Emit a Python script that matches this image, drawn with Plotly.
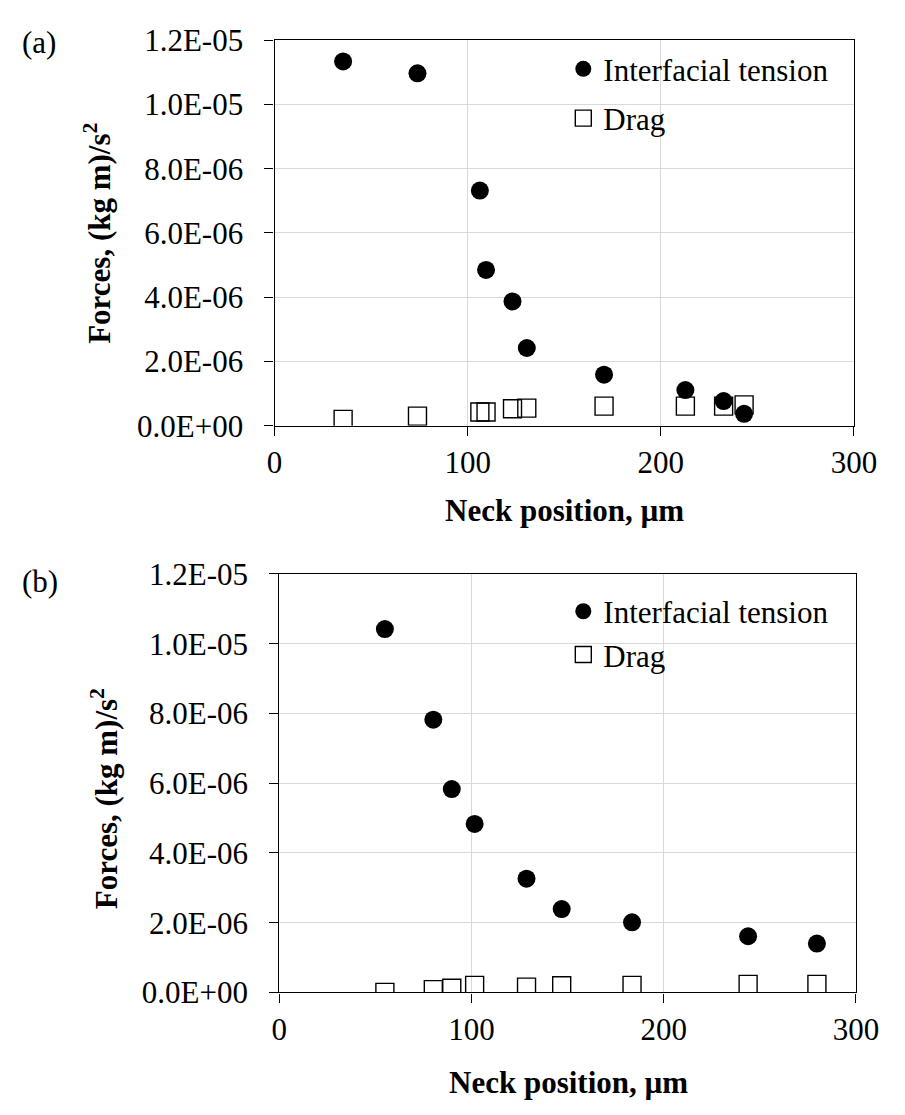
import plotly.graph_objects as go

# ---------------- data ----------------
neck_a = [35.5, 74.0, 106.3, 109.5, 123.2, 130.6, 170.6, 212.7, 232.5, 243.1]
tension_a = [11.34e-6, 10.97e-6, 7.32e-6, 4.85e-6, 3.87e-6, 2.42e-6, 1.59e-6, 1.11e-6, 0.77e-6, 0.37e-6]
drag_a = [0.20e-6, 0.30e-6, 0.43e-6, 0.43e-6, 0.53e-6, 0.55e-6, 0.61e-6, 0.61e-6, 0.61e-6, 0.65e-6]

neck_b = [54.9, 80.1, 89.7, 101.6, 128.6, 146.9, 183.5, 243.9, 279.7]
tension_b = [10.42e-6, 7.82e-6, 5.83e-6, 4.83e-6, 3.26e-6, 2.39e-6, 2.01e-6, 1.61e-6, 1.40e-6]
drag_b = [0.0, 0.08e-6, 0.12e-6, 0.20e-6, 0.15e-6, 0.19e-6, 0.20e-6, 0.23e-6, 0.23e-6]

y_tick_vals = [0, 2e-6, 4e-6, 6e-6, 8e-6, 10e-6, 12e-6]
y_tick_labels = ["0.0E+00", "2.0E-06", "4.0E-06", "6.0E-06", "8.0E-06", "1.0E-05", "1.2E-05"]
x_tick_vals = [0, 100, 200, 300]
x_tick_labels = ["0", "100", "200", "300"]

series_names = ["Interfacial tension", "Drag"]
panel_labels = ["(a)", "(b)"]
x_title = "<b>Neck position, µm</b>"
y_title = "<b>Forces, (kg m)/s<sup>2</sup></b>"

W, H = 905, 1115
FONT = "Liberation Serif, Times New Roman, serif"

fig = go.Figure()

def add_panel(xs, ten, drg, xa, ya, leg):
    fig.add_trace(go.Scatter(
        x=xs, y=drg, mode="markers", name=series_names[1],
        xaxis=xa, yaxis=ya, legend=leg, legendgroup="d" + leg, legendrank=2,
        marker=dict(symbol="square-open", size=18, color="black", line=dict(width=1.4, color="black")),
    ))
    fig.add_trace(go.Scatter(
        x=xs, y=ten, mode="markers", name=series_names[0],
        xaxis=xa, yaxis=ya, legend=leg, legendgroup="t" + leg, legendrank=1,
        marker=dict(symbol="circle", size=18, color="black"),
    ))

add_panel(neck_a, tension_a, drag_a, "x", "y", "legend")
add_panel(neck_b, tension_b, drag_b, "x2", "y2", "legend2")

def px_x(p):
    return p / W

def px_y(p):
    return 1 - p / H

axis_common = dict(
    showline=True, linecolor="black", linewidth=1.3, mirror=True,
    ticks="outside", ticklen=9, tickwidth=1.3, tickcolor="black",
    showgrid=True, gridcolor="#d9d9d9", gridwidth=1,
    zeroline=False, tickfont=dict(family=FONT, size=31, color="black"),
)

fig.update_layout(
    width=W, height=H,
    margin=dict(l=0, r=0, t=0, b=0),
    paper_bgcolor="white", plot_bgcolor="white",
    font=dict(family=FONT, color="black"),
    showlegend=True,
    xaxis=dict(domain=[px_x(276), px_x(876)], range=[0, 300], tickvals=x_tick_vals, ticktext=x_tick_labels,
               anchor="y", ticklabelstandoff=0, **axis_common),
    yaxis=dict(domain=[px_y(422), px_y(24)], range=[0, 12e-6], tickvals=y_tick_vals, ticktext=y_tick_labels,
               anchor="x", ticklabelstandoff=15, **axis_common),
    xaxis2=dict(domain=[px_x(281), px_x(878)], range=[0, 300], tickvals=x_tick_vals, ticktext=x_tick_labels,
                anchor="y2", ticklabelstandoff=0, **axis_common),
    yaxis2=dict(domain=[px_y(1007), px_y(575)], range=[0, 12e-6], tickvals=y_tick_vals, ticktext=y_tick_labels,
                anchor="x2", ticklabelstandoff=15, **axis_common),
    legend=dict(x=px_x(575), y=px_y(26), xanchor="left", yanchor="top",
                font=dict(family=FONT, size=31, color="black"), bgcolor="rgba(0,0,0,0)",
                tracegroupgap=6, itemsizing="trace"),
    legend2=dict(x=px_x(575), y=px_y(586), xanchor="left", yanchor="top",
                 font=dict(family=FONT, size=31, color="black"), bgcolor="rgba(0,0,0,0)",
                 tracegroupgap=0, itemsizing="trace"),
)

ann = []
ann.append(dict(text=panel_labels[0], x=px_x(12), y=px_y(26), xanchor="left", yanchor="middle"))
ann.append(dict(text=panel_labels[1], x=px_x(12), y=px_y(583), xanchor="left", yanchor="middle"))
ann.append(dict(text=y_title, x=px_x(93), y=px_y(223), textangle=-90, xanchor="center", yanchor="middle"))
ann.append(dict(text=y_title, x=px_x(100), y=px_y(807), textangle=-90, xanchor="center", yanchor="middle"))
ann.append(dict(text=x_title, x=px_x(576), y=px_y(510), xanchor="center", yanchor="middle"))
ann.append(dict(text=x_title, x=px_x(580), y=px_y(1100), xanchor="center", yanchor="middle"))
for a in ann:
    a.update(xref="paper", yref="paper", showarrow=False, font=dict(family=FONT, size=31, color="black"))
fig.update_layout(annotations=ann)

fig.write_html("out.html")
